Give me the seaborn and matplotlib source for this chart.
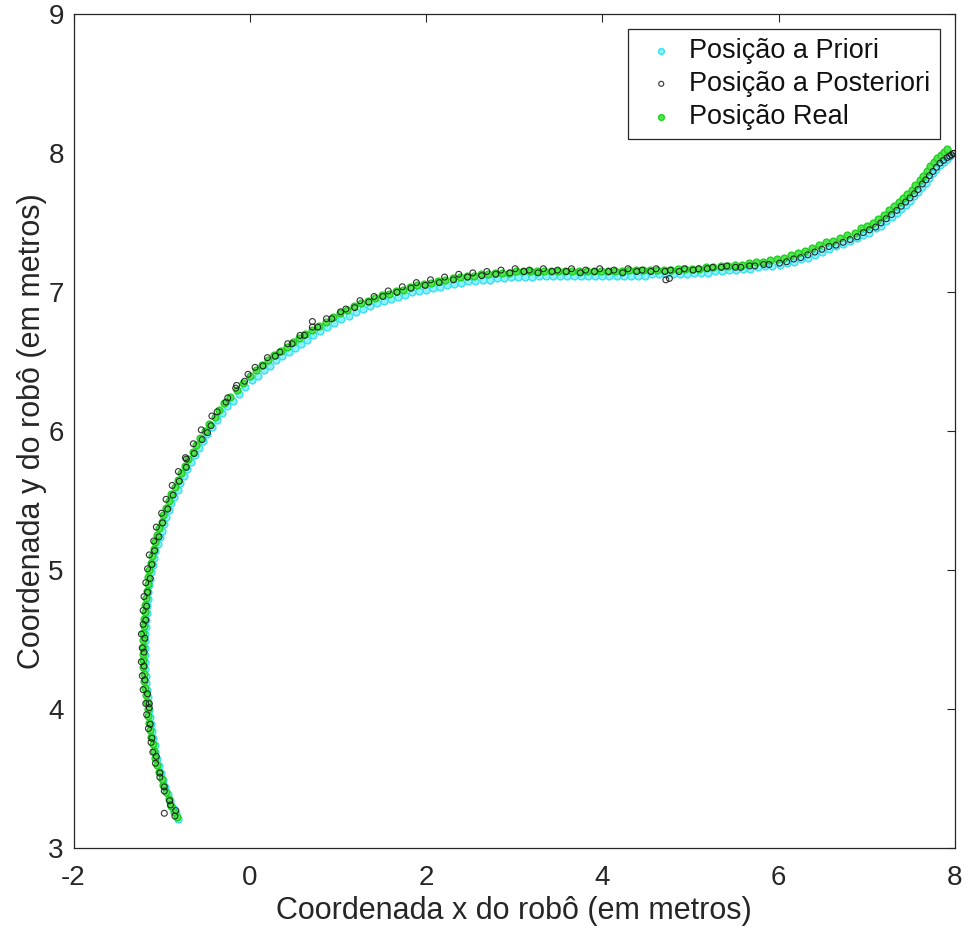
import matplotlib
matplotlib.use("Agg")
import matplotlib.pyplot as plt
import seaborn as sns

# ---------------------------------------------------------------------------
# Robot trajectory estimates (metres)
# ---------------------------------------------------------------------------
REAL_X = [
    -0.83, -0.86, -0.89, -0.92, -0.95, -0.98, -1.00, -1.03, -1.05, -1.07,
    -1.09, -1.10, -1.12, -1.13, -1.14, -1.15, -1.16, -1.17, -1.18, -1.19,
    -1.20, -1.20, -1.21, -1.21, -1.21, -1.21, -1.21, -1.21, -1.20, -1.20,
    -1.19, -1.19, -1.18, -1.17, -1.16, -1.15, -1.14, -1.12, -1.11, -1.09,
    -1.07, -1.05, -1.03, -1.00, -0.98, -0.95, -0.92, -0.89, -0.85, -0.82,
    -0.78, -0.74, -0.70, -0.65, -0.61, -0.56, -0.51, -0.46, -0.40, -0.35,
    -0.29, -0.22, -0.15, -0.08, 0.00,
    0.07, 0.14, 0.21, 0.28, 0.35, 0.42, 0.49, 0.56, 0.63, 0.70,
    0.78, 0.86, 0.94, 1.02, 1.10, 1.18, 1.26, 1.34, 1.42, 1.50,
    1.58, 1.66, 1.74, 1.82, 1.90, 1.98, 2.06, 2.14, 2.22, 2.30,
    2.38, 2.46, 2.54, 2.62, 2.70, 2.78,
    2.86, 2.94, 3.02, 3.10, 3.18, 3.26, 3.34, 3.42, 3.50, 3.58,
    3.66, 3.74, 3.82, 3.90, 3.98, 4.06, 4.14, 4.22, 4.30, 4.38,
    4.46, 4.54, 4.62, 4.70, 4.78, 4.86, 4.94, 5.02, 5.10, 5.18,
    5.26, 5.34, 5.42, 5.50, 5.58, 5.66, 5.74, 5.82, 5.90,
    5.98, 6.06, 6.14, 6.22, 6.30, 6.38, 6.46, 6.54, 6.62, 6.70,
    6.78, 6.86, 6.93, 7.00, 7.07, 7.13, 7.19, 7.25, 7.31, 7.36,
    7.41, 7.46, 7.51, 7.55, 7.60, 7.64, 7.68, 7.72, 7.76, 7.80,
    7.84, 7.88, 7.91,
]
REAL_Y = [
    3.22, 3.26, 3.30, 3.35, 3.40, 3.45, 3.50, 3.55, 3.60, 3.65,
    3.70, 3.75, 3.80, 3.85, 3.90, 3.95, 4.00, 4.05, 4.10, 4.15,
    4.20, 4.25, 4.30, 4.35, 4.40, 4.45, 4.50, 4.55, 4.60, 4.65,
    4.70, 4.75, 4.80, 4.85, 4.90, 4.95, 5.00, 5.05, 5.10, 5.15,
    5.20, 5.25, 5.30, 5.35, 5.40, 5.45, 5.50, 5.55, 5.60, 5.65,
    5.70, 5.75, 5.80, 5.85, 5.90, 5.95, 6.00, 6.05, 6.10, 6.15,
    6.20, 6.25, 6.30, 6.35, 6.40,
    6.44, 6.48, 6.51, 6.55, 6.58, 6.61, 6.64, 6.67, 6.70, 6.73,
    6.76, 6.79, 6.82, 6.85, 6.87, 6.90, 6.92, 6.94, 6.96, 6.98,
    6.99, 7.01, 7.02, 7.04, 7.05, 7.06, 7.07, 7.08, 7.09, 7.10,
    7.11, 7.12, 7.12, 7.13, 7.13, 7.14,
    7.14, 7.14, 7.15, 7.15, 7.15, 7.15, 7.15, 7.15, 7.15, 7.15,
    7.15, 7.15, 7.15, 7.15, 7.15, 7.15, 7.15, 7.15, 7.16, 7.16,
    7.16, 7.16, 7.16, 7.16, 7.16, 7.17, 7.17, 7.17, 7.17, 7.18,
    7.18, 7.19, 7.19, 7.20, 7.20, 7.21, 7.22, 7.22, 7.23,
    7.24, 7.25, 7.27, 7.28, 7.30, 7.32, 7.34, 7.36, 7.37, 7.39,
    7.41, 7.43, 7.46, 7.48, 7.50, 7.53, 7.56, 7.59, 7.62, 7.65,
    7.68, 7.71, 7.74, 7.77, 7.81, 7.84, 7.87, 7.91, 7.94, 7.97,
    7.99, 8.01, 8.03,
]

PRIORI_X = [
    -0.81, -0.84, -0.87, -0.90, -0.93, -0.96, -0.98, -1.01, -1.03, -1.05,
    -1.07, -1.08, -1.10, -1.11, -1.12, -1.13, -1.14, -1.15, -1.16, -1.17,
    -1.18, -1.18, -1.19, -1.19, -1.19, -1.19, -1.19, -1.19, -1.18, -1.18,
    -1.17, -1.17, -1.16, -1.15, -1.14, -1.13, -1.12, -1.10, -1.09, -1.07,
    -1.04, -1.02, -1.00, -0.97, -0.95, -0.92, -0.89, -0.86, -0.82, -0.79,
    -0.75, -0.71, -0.67, -0.62, -0.58, -0.53, -0.48, -0.43, -0.37, -0.32,
    -0.26, -0.19, -0.12, -0.05, 0.03,
    0.09, 0.16, 0.23, 0.30, 0.37, 0.44, 0.51, 0.58, 0.65, 0.72,
    0.80, 0.88, 0.96, 1.04, 1.12, 1.20, 1.28, 1.36, 1.44, 1.52,
    1.60, 1.68, 1.76, 1.84, 1.92, 2.00, 2.08, 2.16, 2.24, 2.32,
    2.40, 2.48, 2.56, 2.64, 2.72, 2.80,
    2.88, 2.96, 3.04, 3.12, 3.20, 3.28, 3.36, 3.44, 3.52, 3.60,
    3.68, 3.76, 3.84, 3.92, 4.00, 4.08, 4.16, 4.24, 4.32, 4.40,
    4.48, 4.56, 4.64, 4.72, 4.80, 4.88, 4.96, 5.04, 5.12, 5.20,
    5.28, 5.36, 5.44, 5.52, 5.60, 5.68, 5.76, 5.84, 5.92,
    6.01, 6.09, 6.17, 6.25, 6.33, 6.41, 6.49, 6.57, 6.65, 6.73,
    6.81, 6.89, 6.96, 7.03, 7.10, 7.16, 7.22, 7.28, 7.34, 7.39,
    7.44, 7.49, 7.54, 7.58, 7.63, 7.67, 7.71, 7.75, 7.79, 7.83,
    7.87, 7.91, 7.94,
]
PRIORI_Y = [
    3.21, 3.25, 3.29, 3.34, 3.39, 3.44, 3.49, 3.54, 3.59, 3.64,
    3.69, 3.74, 3.79, 3.84, 3.89, 3.94, 3.99, 4.04, 4.09, 4.14,
    4.19, 4.24, 4.29, 4.34, 4.39, 4.44, 4.49, 4.54, 4.59, 4.64,
    4.69, 4.74, 4.79, 4.84, 4.89, 4.94, 4.99, 5.04, 5.09, 5.14,
    5.19, 5.24, 5.28, 5.33, 5.38, 5.43, 5.48, 5.53, 5.58, 5.63,
    5.68, 5.73, 5.78, 5.83, 5.88, 5.93, 5.98, 6.03, 6.08, 6.13,
    6.18, 6.22, 6.27, 6.32, 6.37,
    6.40, 6.44, 6.47, 6.51, 6.54, 6.57, 6.60, 6.63, 6.66, 6.69,
    6.72, 6.75, 6.78, 6.81, 6.83, 6.86, 6.88, 6.90, 6.92, 6.94,
    6.95, 6.97, 6.98, 7.00, 7.01, 7.02, 7.03, 7.04, 7.05, 7.06,
    7.07, 7.08, 7.08, 7.09, 7.09, 7.10,
    7.10, 7.11, 7.11, 7.11, 7.11, 7.12, 7.12, 7.12, 7.12, 7.12,
    7.12, 7.12, 7.12, 7.12, 7.12, 7.12, 7.12, 7.12, 7.12, 7.12,
    7.12, 7.13, 7.13, 7.13, 7.13, 7.13, 7.13, 7.14, 7.14, 7.14,
    7.15, 7.15, 7.16, 7.16, 7.17, 7.17, 7.18, 7.19, 7.19,
    7.20, 7.21, 7.22, 7.24, 7.25, 7.27, 7.29, 7.31, 7.33, 7.35,
    7.37, 7.39, 7.41, 7.43, 7.46, 7.48, 7.51, 7.54, 7.57, 7.60,
    7.63, 7.66, 7.69, 7.72, 7.76, 7.79, 7.82, 7.86, 7.89, 7.92,
    7.94, 7.96, 7.98,
]

POSTERIORI_X = [
    -0.85, -0.84, -0.90, -0.91, -0.97, -0.97, -1.02, -1.02, -1.07, -1.06,
    -1.10, -1.12, -1.11, -1.15, -1.13, -1.17, -1.14, -1.18, -1.16, -1.21,
    -1.19, -1.22, -1.20, -1.23, -1.20, -1.22, -1.19, -1.23, -1.21, -1.18,
    -1.21, -1.17, -1.20, -1.16, -1.18, -1.13, -1.16, -1.11, -1.14, -1.08,
    -1.09, -1.03, -1.06, -0.99, -1.00, -0.93, -0.95, -0.87, -0.88, -0.80,
    -0.81, -0.72, -0.73, -0.63, -0.64, -0.54, -0.55, -0.44, -0.43, -0.37,
    -0.27, -0.25, -0.16, -0.06, -0.02,
    0.06, 0.15, 0.20, 0.29, 0.34, 0.43, 0.48, 0.57, 0.62, 0.71,
    0.77, 0.87, 0.93, 1.03, 1.09, 1.19, 1.25, 1.35, 1.41, 1.51,
    1.57, 1.67, 1.73, 1.83, 1.89, 1.99, 2.05, 2.15, 2.21, 2.31,
    2.37, 2.47, 2.53, 2.63, 2.69, 2.79,
    2.85, 2.95, 3.01, 3.11, 3.17, 3.27, 3.33, 3.43, 3.49, 3.59,
    3.65, 3.75, 3.81, 3.91, 3.97, 4.07, 4.13, 4.23, 4.29, 4.39,
    4.45, 4.55, 4.61, 4.71, 4.77, 4.87, 4.93, 5.03, 5.09, 5.19,
    5.25, 5.35, 5.41, 5.51, 5.57, 5.67, 5.73, 5.83, 5.89,
    6.01, 6.09, 6.17, 6.25, 6.33, 6.41, 6.49, 6.57, 6.65, 6.73,
    6.81, 6.89, 6.96, 7.03, 7.10, 7.16, 7.22, 7.28, 7.34, 7.39,
    7.44, 7.49, 7.54, 7.58, 7.63, 7.67, 7.71, 7.75, 7.79, 7.83,
    7.87, 7.91, 7.94, 7.96, 7.98, 7.99,
    -0.97, -1.14, -0.72, -0.48, -0.15, 0.71, 4.72, 4.76,
]
POSTERIORI_Y = [
    3.23, 3.27, 3.31, 3.34, 3.41, 3.44, 3.51, 3.54, 3.61, 3.66,
    3.69, 3.76, 3.79, 3.86, 3.89, 3.96, 4.01, 4.04, 4.11, 4.14,
    4.21, 4.24, 4.31, 4.34, 4.41, 4.44, 4.51, 4.54, 4.61, 4.64,
    4.71, 4.74, 4.81, 4.84, 4.91, 4.94, 5.01, 5.04, 5.11, 5.14,
    5.21, 5.24, 5.31, 5.34, 5.41, 5.44, 5.51, 5.54, 5.61, 5.64,
    5.71, 5.74, 5.81, 5.84, 5.91, 5.94, 6.01, 6.04, 6.11, 6.14,
    6.21, 6.24, 6.31, 6.36, 6.41,
    6.46, 6.47, 6.53, 6.54, 6.57, 6.63, 6.63, 6.69, 6.69, 6.75,
    6.75, 6.81, 6.81, 6.86, 6.88, 6.89, 6.94, 6.93, 6.97, 6.97,
    7.01, 7.00, 7.04, 7.03, 7.07, 7.05, 7.09, 7.07, 7.11, 7.09,
    7.13, 7.11, 7.14, 7.12, 7.15, 7.13,
    7.16, 7.14, 7.17, 7.15, 7.16, 7.14, 7.17, 7.15, 7.16, 7.15,
    7.17, 7.14, 7.16, 7.15, 7.17, 7.15, 7.16, 7.14, 7.17, 7.15,
    7.16, 7.15, 7.17, 7.15, 7.16, 7.15, 7.17, 7.16, 7.17, 7.17,
    7.18, 7.18, 7.19, 7.18, 7.18, 7.19, 7.19, 7.20, 7.20,
    7.21, 7.22, 7.24, 7.25, 7.27, 7.29, 7.31, 7.33, 7.34, 7.36,
    7.38, 7.40, 7.43, 7.45, 7.47, 7.50, 7.53, 7.56, 7.59, 7.62,
    7.65, 7.68, 7.71, 7.74, 7.78, 7.81, 7.84, 7.87, 7.90, 7.93,
    7.95, 7.97, 7.98, 7.99, 8.00, 8.00,
    3.25, 4.04, 5.80, 5.99, 6.33, 6.79, 7.09, 7.10,
]

LABELS = ["Posição a Priori", "Posição a Posteriori", "Posição Real"]
X_TICKS = [-2, 0, 2, 4, 6, 8]
Y_TICKS = [3, 4, 5, 6, 7, 8, 9]
X_LABEL = "Coordenada x do robô (em metros)"
Y_LABEL = "Coordenada y do robô (em metros)"

# ---------------------------------------------------------------------------
# Styling
# ---------------------------------------------------------------------------
sns.set_style("white")
plt.rcParams["font.family"] = ["Liberation Sans", "DejaVu Sans"]
plt.rcParams["axes.unicode_minus"] = False

INK = "#262626"

fig = plt.figure(figsize=(9.65, 9.38), dpi=100)
W, H = 965.0, 938.0
left, right, top, bottom = 73.5, 955.0, 14.5, 848.0
ax = fig.add_axes([left / W, 1 - bottom / H, (right - left) / W, (bottom - top) / H])

sns.scatterplot(x=PRIORI_X, y=PRIORI_Y, ax=ax, marker="o", s=24,
                color="#8cf2fa", edgecolor="#38dff0", linewidth=1.0,
                label=LABELS[0], zorder=2)
sns.scatterplot(x=POSTERIORI_X, y=POSTERIORI_Y, ax=ax, marker="o", s=18,
                color="none", edgecolor="#1c1c1c", linewidth=0.8, alpha=0.9,
                label=LABELS[1], zorder=4)
sns.scatterplot(x=REAL_X, y=REAL_Y, ax=ax, marker="o", s=24,
                color="#4fe64f", edgecolor="#22d022", linewidth=1.0,
                label=LABELS[2], zorder=3)

ax.set_xlim(-2, 8)
ax.set_ylim(3, 9)
ax.set_xticks(X_TICKS)
ax.set_yticks(Y_TICKS)
ax.set_xticklabels([str(t) for t in X_TICKS])
ax.set_yticklabels([str(t) for t in Y_TICKS])

ax.tick_params(axis="both", direction="in", length=6, width=0.8, colors=INK,
               labelsize=20, top=True, right=True)
ax.tick_params(axis="x", pad=12)
ax.tick_params(axis="y", pad=7)

for sp in ax.spines.values():
    sp.set_visible(True)
    sp.set_color(INK)
    sp.set_linewidth(0.9)

ax.set_xlabel(X_LABEL, fontsize=22, color=INK, labelpad=4)
ax.set_ylabel(Y_LABEL, fontsize=22, color=INK, labelpad=1)

leg = ax.legend(loc="upper right", bbox_to_anchor=(0.983, 0.983),
                borderaxespad=0, fontsize=19.5, frameon=True, fancybox=False,
                edgecolor=INK, framealpha=1, borderpad=0.35, handlelength=1.75,
                handletextpad=0.16, labelspacing=0.25, markerscale=0.85)
leg.get_frame().set_linewidth(0.9)
for txt in leg.get_texts():
    txt.set_color("#111111")

fig.savefig("out.png", dpi=100)
